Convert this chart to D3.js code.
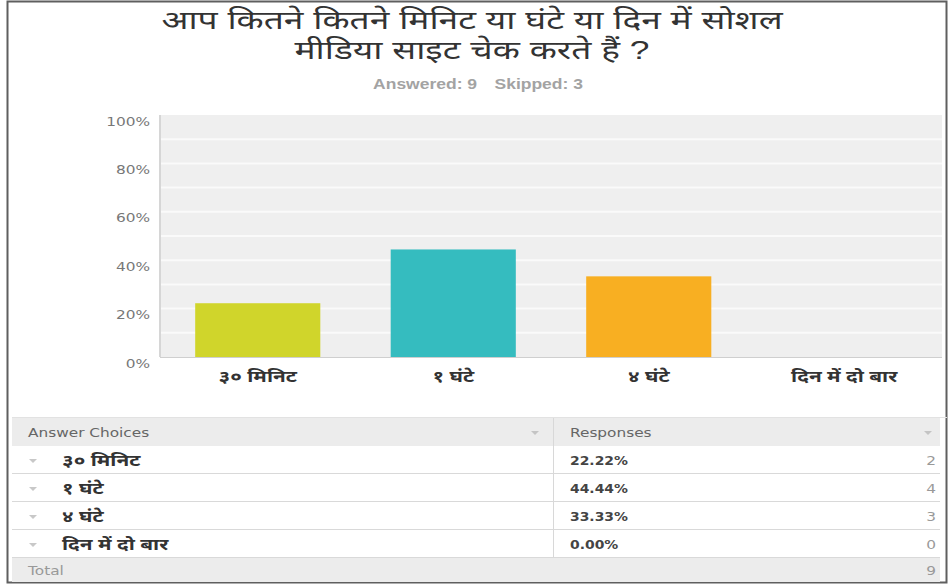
<!DOCTYPE html>
<html>
<head>
<meta charset="utf-8">
<script src="https://cdn.jsdelivr.net/npm/d3@7"></script>
<style>
  html, body { margin: 0; padding: 0; background: #fff; }
  svg { display: block; }
</style>
</head>
<body>
<svg id="chart" width="951" height="586"></svg>
<script>
// Survey question and summary
const titleLines = ["आप कितने कितने मिनिट या घंटे या दिन में सोशल", "मीडिया साइट चेक करते हैं ?"];
const answeredText = "Answered: 9";
const skippedText = "Skipped: 3";

// Answer choices, share of responses (%) and counts
const choices = ["३० मिनिट", "१ घंटे", "४ घंटे", "दिन में दो बार"];
const percents = [22.22, 44.44, 33.33, 0.00];
const counts = [2, 4, 3, 0];
const totalCount = 9;
const barColors = ["#d0d52b", "#35bcbf", "#f8af22", "#8e6fb0"];
const yTicks = [0, 20, 40, 60, 80, 100];
const yMinor = [10, 30, 50, 70, 90];

const svg = d3.select("#chart");
const latin = "'DejaVu Sans', Verdana, sans-serif";
const latinBold = "'Liberation Sans', Arial, sans-serif";
const deva = "'Noto Sans', 'Noto Sans Devanagari', 'Lohit Devanagari', sans-serif";
const titleFont = "'Liberation Sans', 'Noto Sans Devanagari', sans-serif";

// Wide text: glyphs are stretched horizontally around their anchor point
const SX_LATIN = 1.18;
const SX_DEVA = 1.3;
function placeText(sel, x, y, sx) {
  return sel.attr("transform", (d, i) => {
    const xx = typeof x === "function" ? x(d, i) : x;
    const yy = typeof y === "function" ? y(d, i) : y;
    return `translate(${xx},${yy}) scale(${sx},1)`;
  });
}

// Frame
svg.append("rect").attr("x", 7.5).attr("y", 1.5).attr("width", 939).attr("height", 581)
  .attr("fill", "#fff").attr("stroke", "#5f5f5f").attr("stroke-width", 2);

// Title: two centred lines
placeText(svg.append("g").selectAll("text").data(titleLines).join("text"), 472, (d, i) => 29 + i * 30, 1.36)
  .attr("text-anchor", "middle")
  .attr("font-family", titleFont).attr("font-size", 26).attr("fill", "#333")
  .text(d => d);

const sub = placeText(svg.append("text"), 478, 89, 1.25).attr("text-anchor", "middle")
  .attr("font-family", latinBold).attr("font-size", 14).attr("font-weight", "bold").attr("fill", "#a3a3a3");
sub.append("tspan").text(answeredText);
sub.append("tspan").attr("dx", 14).text(skippedText);

// Plot area
const plot = { left: 160, right: 942, top: 115, bottom: 357 };
const x = d3.scaleBand().domain(choices).range([plot.left, plot.right]).paddingInner(0.36).paddingOuter(0.18);
const y = d3.scaleLinear().domain([0, 100]).range([plot.bottom, plot.top]);

svg.append("rect").attr("x", plot.left).attr("y", plot.top)
  .attr("width", plot.right - plot.left).attr("height", plot.bottom - plot.top).attr("fill", "#efefef");

// Gridlines (major and minor)
svg.append("g").selectAll("line").data(yTicks.concat(yMinor).filter(v => v > 0 && v < 100)).join("line")
  .attr("x1", plot.left).attr("x2", plot.right)
  .attr("y1", d => y(d)).attr("y2", d => y(d))
  .attr("stroke", "#fafafa").attr("stroke-width", 2);

// Bars
svg.append("g").selectAll("rect").data(choices).join("rect")
  .attr("x", d => x(d)).attr("width", x.bandwidth())
  .attr("y", (d, i) => y(percents[i])).attr("height", (d, i) => y(0) - y(percents[i]))
  .attr("fill", (d, i) => barColors[i]);

// Axis lines
svg.append("line").attr("x1", plot.left).attr("x2", plot.left).attr("y1", plot.top).attr("y2", plot.bottom)
  .attr("stroke", "#d6d6d6").attr("stroke-width", 2);
svg.append("line").attr("x1", plot.left).attr("x2", plot.right).attr("y1", plot.bottom + 0.5).attr("y2", plot.bottom + 0.5)
  .attr("stroke", "#cfcfcf").attr("stroke-width", 1);

// Y axis labels
const yPad = 10;
const yAxis = d3.axisLeft(y).tickValues(yTicks).tickSize(0).tickPadding(yPad).tickFormat(d => d + "%");
const gy = svg.append("g").attr("transform", `translate(${plot.left},6)`).call(yAxis);
gy.select(".domain").remove();
gy.selectAll("text").attr("font-family", latin).attr("font-size", 13).attr("fill", "#777")
  .attr("x", -yPad / SX_LATIN).attr("transform", `scale(${SX_LATIN},1)`);

// X axis labels
const xAxis = d3.axisBottom(x).tickSize(0).tickPadding(14);
const gx = svg.append("g").attr("transform", `translate(0,${plot.bottom})`).call(xAxis);
gx.select(".domain").remove();
gx.selectAll("text").attr("font-family", deva).attr("font-size", 16).attr("font-weight", "bold").attr("fill", "#333")
  .attr("transform", `scale(${SX_DEVA},1)`);

// Response table
const table = { left: 12, right: 940, top: 418, header: 28, row: 28, divider: 553 };
const tg = svg.append("g");
tg.append("rect").attr("x", table.left).attr("y", table.top).attr("width", table.right - table.left)
  .attr("height", table.header).attr("fill", "#ececec");
tg.append("line").attr("x1", table.left).attr("x2", 947).attr("y1", table.top - 0.5).attr("y2", table.top - 0.5)
  .attr("stroke", "#e2e2e2");
tg.append("line").attr("x1", table.divider + 0.5).attr("x2", table.divider + 0.5)
  .attr("y1", table.top).attr("y2", table.top + table.header + choices.length * table.row)
  .attr("stroke", "#d8d8d8");

const headerY = table.top + table.header / 2 + 5;
placeText(tg.append("text"), 28, headerY, SX_LATIN).attr("font-family", latin).attr("font-size", 13)
  .attr("fill", "#666").text("Answer Choices");
placeText(tg.append("text"), 570, headerY, SX_LATIN).attr("font-family", latin).attr("font-size", 13)
  .attr("fill", "#666").text("Responses");
[535, 928].forEach(ax => {
  tg.append("path").attr("d", `M${ax - 4},${headerY - 6}L${ax + 4},${headerY - 6}L${ax},${headerY - 2}Z`).attr("fill", "#c4c4c4");
});

const rows = tg.selectAll("g.row").data(choices).join("g").attr("class", "row")
  .attr("transform", (d, i) => `translate(0,${table.top + table.header + i * table.row})`);
rows.append("line").attr("x1", table.left).attr("x2", table.right)
  .attr("y1", table.row - 0.5).attr("y2", table.row - 0.5).attr("stroke", "#d9d9d9");
rows.append("path").attr("d", `M29,${table.row / 2 - 1}L37,${table.row / 2 - 1}L33,${table.row / 2 + 3}Z`).attr("fill", "#c8c8c8");
placeText(rows.append("text"), 62, table.row / 2 + 6, SX_DEVA)
  .attr("font-family", deva).attr("font-size", 16).attr("font-weight", "bold").attr("fill", "#333")
  .text(d => d);
placeText(rows.append("text"), 570, table.row / 2 + 5, 1.16)
  .attr("font-family", latin).attr("font-size", 12).attr("font-weight", "bold").attr("fill", "#444")
  .text((d, i) => percents[i].toFixed(2) + "%");
placeText(rows.append("text"), 936, table.row / 2 + 5, SX_LATIN).attr("text-anchor", "end")
  .attr("font-family", latin).attr("font-size", 13).attr("fill", "#999")
  .text((d, i) => counts[i]);

const totalY = table.top + table.header + choices.length * table.row;
tg.append("rect").attr("x", table.left).attr("y", totalY).attr("width", table.right - table.left)
  .attr("height", 583 - totalY - 1).attr("fill", "#ececec");
placeText(tg.append("text"), 28, totalY + 17, SX_LATIN).attr("font-family", latin).attr("font-size", 13)
  .attr("fill", "#999").text("Total");
placeText(tg.append("text"), 936, totalY + 17, SX_LATIN).attr("text-anchor", "end").attr("font-family", latin)
  .attr("font-size", 13).attr("fill", "#999").text(totalCount);
</script>
</body>
</html>
